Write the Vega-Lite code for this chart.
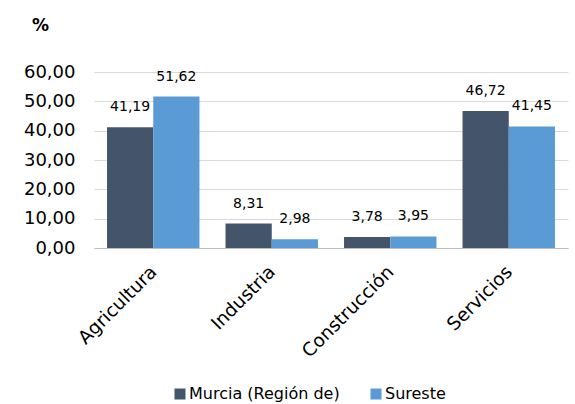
{
  "$schema": "https://vega.github.io/schema/vega-lite/v6.json",
  "autosize": {"type": "none"},
  "width": 474,
  "height": 176,
  "padding": {"left": 94, "top": 72, "right": 7, "bottom": 156},
  "background": "white",
  "title": {"text": "%", "anchor": "start", "frame": "group", "dx": -62, "offset": 28, "fontSize": 17, "font": "DejaVu Sans", "fontWeight": "bold", "color": "#000000"},
  "config": {
    "locale": {"number": {"decimal": ",", "thousands": ".", "grouping": [3], "currency": ["", " €"]}},
    "font": "DejaVu Sans",
    "view": {"stroke": null}
  },
  "data": {"values": [
    {"sector": "Agricultura", "serie": "Murcia (Región de)", "valor": 41.19},
    {"sector": "Agricultura", "serie": "Sureste", "valor": 51.62},
    {"sector": "Industria", "serie": "Murcia (Región de)", "valor": 8.31},
    {"sector": "Industria", "serie": "Sureste", "valor": 2.98},
    {"sector": "Construcción", "serie": "Murcia (Región de)", "valor": 3.78},
    {"sector": "Construcción", "serie": "Sureste", "valor": 3.95},
    {"sector": "Servicios", "serie": "Murcia (Región de)", "valor": 46.72},
    {"sector": "Servicios", "serie": "Sureste", "valor": 41.45}
  ]},
  "encoding": {
    "x": {"field": "sector", "type": "nominal", "sort": ["Agricultura", "Industria", "Construcción", "Servicios"],
      "scale": {"paddingInner": 0.22, "paddingOuter": 0.11},
      "axis": {"title": null, "labelAngle": -45, "labelFontSize": 18.5, "labelColor": "#000000", "ticks": false, "domainColor": "#bfbfbf", "labelPadding": 14, "labelOffset": -6}},
    "xOffset": {"field": "serie", "type": "nominal", "sort": ["Murcia (Región de)", "Sureste"]},
    "y": {"field": "valor", "type": "quantitative", "scale": {"domain": [0, 60]},
      "axis": {"title": null, "values": [0, 10, 20, 30, 40, 50, 60], "format": ".2f", "domain": false, "ticks": false, "labelPadding": 19, "gridColor": "#d9d9d9", "labelFontSize": 18, "labelColor": "#000000"}}
  },
  "layer": [
    {"mark": {"type": "bar"},
      "encoding": {"color": {"field": "serie", "type": "nominal", "sort": ["Murcia (Región de)", "Sureste"],
        "scale": {"range": ["#44546A", "#5B9BD5"]},
        "legend": {"title": null, "orient": "none", "legendX": 78, "legendY": 314, "direction": "horizontal", "symbolType": "square", "symbolSize": 121, "symbolStrokeWidth": 0, "labelFontSize": 16, "labelLimit": 400, "labelColor": "#000000", "columnPadding": 28, "labelOffset": 1}}}},
    {"mark": {"type": "text", "dy": -20, "fontSize": 14, "color": "#000000"},
      "encoding": {"text": {"field": "valor", "type": "quantitative", "format": ".2f"}}}
  ]
}
